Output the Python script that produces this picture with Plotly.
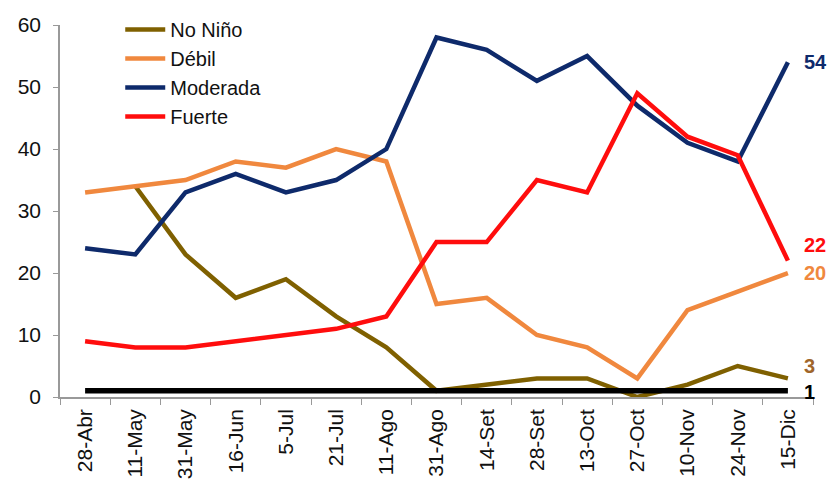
import plotly.graph_objects as go

fechas = ["28-Abr", "11-May", "31-May", "16-Jun", "5-Jul", "21-Jul", "11-Ago", "31-Ago",
          "14-Set", "28-Set", "13-Oct", "27-Oct", "10-Nov", "24-Nov", "15-Dic"]
no_nino = [None, 34, 23, 16, 19, 13, 8, 1, 2, 3, 3, 0, 2, 5, 3]
debil = [33, 34, 35, 38, 37, 40, 38, 15, 16, 10, 8, 3, 14, 17, 20]
moderada = [24, 23, 33, 36, 33, 35, 40, 58, 56, 51, 55, 47, 41, 38, 54]
fuerte = [9, 8, 8, 9, 10, 11, 13, 25, 25, 35, 33, 49, 42, 39, 22]
extraordinario = [1] * 15

series = [
    ("No Niño", no_nino, "#7F6000", True),
    ("Débil", debil, "#F0883E", True),
    ("Moderada", moderada, "#0E2A6B", True),
    ("Fuerte", fuerte, "#FF0D0D", True),
    ("Extraordinario", extraordinario, "#000000", False),
]

fig = go.Figure()
for name, vals, color, show in series:
    fig.add_trace(go.Scatter(
        x=fechas, y=vals, name=name, mode="lines",
        line=dict(color=color, width=5.5 if not show else 4.5),
        showlegend=show, connectgaps=False,
    ))

# end-of-series value labels
end_labels = [
    (moderada[-1], "#0E2A6B", 0),
    (fuerte[-1], "#FF0D0D", 16),
    (debil[-1], "#F0883E", 0),
    (no_nino[-1], "#A0652A", 12),
    (extraordinario[-1], "#000000", -1),
]
for val, color, ys in end_labels:
    fig.add_annotation(
        x=fechas[-1], y=val, text=f"<b>{val}</b>", showarrow=False,
        xanchor="left", xshift=14, yshift=ys,
        font=dict(size=20, color=color, family="Liberation Sans, Arial"),
    )

fig.update_layout(
    width=840, height=493,
    margin=dict(l=60, r=27, t=10, b=96),
    paper_bgcolor="white", plot_bgcolor="white",
    font=dict(family="Liberation Sans, Arial", size=20, color="#111111"),
    legend=dict(
        x=0.08, y=1.0, xanchor="left", yanchor="top",
        bgcolor="rgba(0,0,0,0)", font=dict(size=20),
        tracegroupgap=0, itemwidth=40,
    ),
    xaxis=dict(
        type="category", range=[-0.5, 14.5], tickangle=-90, automargin=False,
        tickson="boundaries", ticks="outside", ticklen=6, tickcolor="#999999",
        showline=True, linecolor="#999999", linewidth=1.5,
        showgrid=False, tickfont=dict(size=21), ticklabelstandoff=2,
    ),
    yaxis=dict(
        range=[0, 60], dtick=10, domain=[0, 0.961], automargin=False,
        ticks="outside", ticklen=5,
        tickcolor="#999999", showline=True, linecolor="#999999", linewidth=1.5,
        showgrid=False, zeroline=False, tickfont=dict(size=21), ticklabelstandoff=8,
    ),
)

fig.write_html("out.html")
